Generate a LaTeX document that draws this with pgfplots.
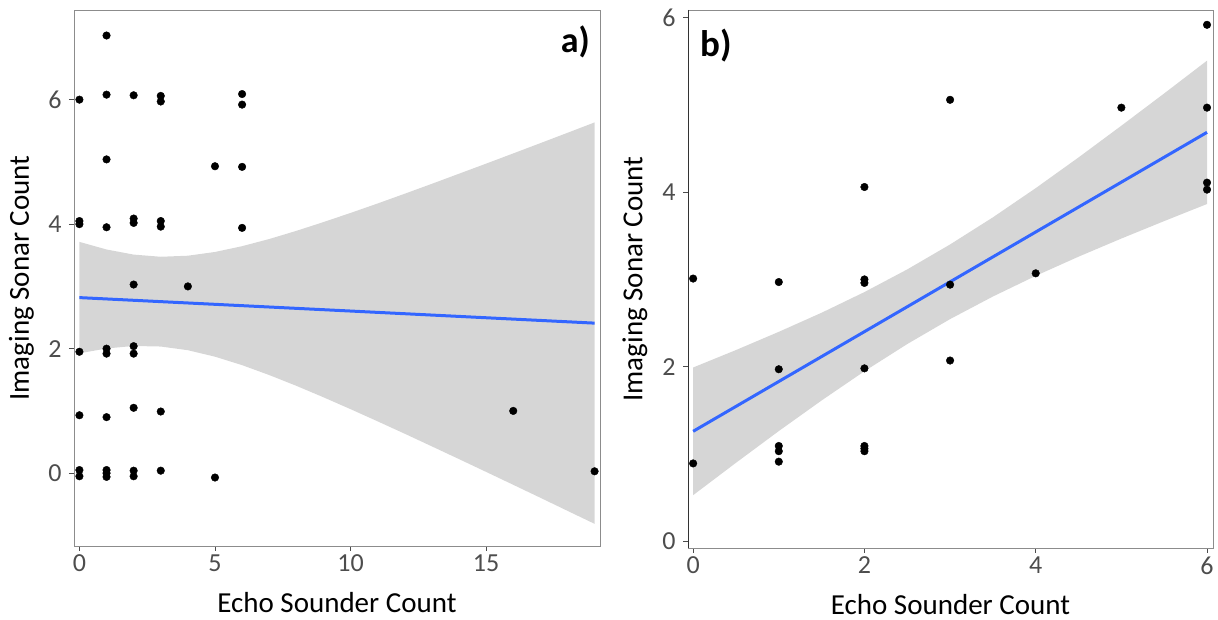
\documentclass[border=0pt]{standalone}
\usepackage{fontspec}
\setmainfont{Carlito}
\usepackage{pgfplots}
\pgfplotsset{compat=1.18}
\definecolor{fitblue}{HTML}{3366FF}
\definecolor{tickgray}{HTML}{4D4D4D}
\pgfplotsset{
  myaxis/.style={
    scale only axis,
    axis line style={draw=black!45, line width=0.9pt},
    tick align=outside,
    major tick length=5pt,
    xtick pos=bottom, ytick pos=left,
    every tick/.style={black!70, line width=0.9pt},
    /pgf/number format/assume math mode=true,
    ticklabel style={font=\fontsize{26}{26}\selectfont, text=tickgray},
    yticklabel style={xshift=-4pt},
    label style={font=\fontsize{29}{29}\selectfont},
    xlabel style={at={(rel axis cs:0.5,0)}, anchor=base, yshift=-67pt},
  },
  pts/.style={only marks, mark=*, mark size=3.8pt, black, mark options={draw=none, fill=black}},
  band/.style={draw=none, fill=black!40, fill opacity=0.4},
  fitline/.style={draw=fitblue, line width=3pt, no marks},
}
\begin{document}
\begin{tikzpicture}
\useasboundingbox (0pt,0pt) rectangle (1218pt,620pt);
% ---------------- panel a ----------------
\begin{axis}[myaxis,
  at={(74pt,74pt)}, anchor=south west,
  width=526pt, height=536pt,
  xmin=-0.2, xmax=19.2, ymin=-1.17, ymax=7.44,
  xtick={0,5,10,15}, ytick={0,2,4,6},
  xlabel={Echo Sounder Count}, ylabel={Imaging Sonar Count},
  ylabel style={at={(axis description cs:-0.1,0.5)}, rotate=0, anchor=center},
]
\addplot[pts] coordinates {
 (0,6.0) (0,4.05) (0,4.0) (0,1.95) (0,0.93) (0,0.05) (0,-0.05)
 (1,7.03) (1,6.08) (1,5.04) (1,3.95) (1,2.0) (1,1.92) (1,0.9) (1,0.05) (1,0) (1,-0.06)
 (2,6.07) (2,4.09) (2,4.02) (2,3.03) (2,2.04) (2,1.92) (2,1.05) (2,0.04) (2,-0.05)
 (3,6.06) (3,5.97) (3,4.05) (3,3.96) (3,0.99) (3,0.04)
 (4,3.0)
 (5,4.93) (5,-0.07)
 (6,6.09) (6,5.92) (6,4.92) (6,3.94)
 (16,1.0)
 (19,0.03)
};
\addplot[band] coordinates {
 (0,3.715) (1,3.593) (2,3.511) (3,3.476) (4,3.493) (5,3.553) (6,3.646) (7,3.761)
 (8,3.892) (9,4.033) (10,4.180) (11,4.332) (12,4.489) (13,4.648) (14,4.810)
 (15,4.972) (16,5.136) (17,5.301) (18,5.467) (19,5.634)
 (19,-0.814) (18,-0.605) (17,-0.395) (16,-0.187) (15,0.020) (14,0.226) (13,0.430)
 (12,0.633) (11,0.832) (10,1.028) (9,1.219) (8,1.403) (7,1.576) (6,1.735)
 (5,1.871) (4,1.975) (3,2.034) (2,2.043) (1,2.003) (0,1.925)
} -- cycle;
\addplot[fitline] coordinates {(0,2.82) (19,2.41)};
\node[anchor=north east, inner sep=0pt, font=\bfseries\fontsize{36}{36}\selectfont]
  at (rel axis cs:1,1) [xshift=-10pt, yshift=-16pt] {a)};
\end{axis}
% ---------------- panel b ----------------
\begin{axis}[myaxis,
  at={(688pt,72pt)}, anchor=south west,
  width=525pt, height=538pt,
  xmin=-0.06, xmax=6.07, ymin=-0.08, ymax=6.09,
  xtick={0,2,4,6}, ytick={0,2,4,6},
  xlabel={Echo Sounder Count}, ylabel={Imaging Sonar Count},
  ylabel style={at={(axis description cs:-0.101,0.5)}, rotate=0, anchor=center},
]
\addplot[pts] coordinates {
 (0,3.01) (0,0.89)
 (1,2.97) (1,1.97) (1,1.09) (1,1.03) (1,0.91)
 (2,4.06) (2,3.0) (2,2.96) (2,1.98) (2,1.09) (2,1.06) (2,1.03)
 (3,5.06) (3,2.94) (3,2.07)
 (4,3.07)
 (5,4.97)
 (6,5.92) (6,4.97) (6,4.11) (6,4.03)
};
\addplot[band] coordinates {
 (0,1.990) (0.5,2.190) (1,2.399) (1.5,2.618) (2,2.855) (2.5,3.115) (3,3.401)
 (3.5,3.712) (4,4.047) (4.5,4.399) (5,4.763) (5.5,5.133) (6,5.509)
 (6,3.865) (5.5,3.669) (5,3.469) (4.5,3.261) (4,3.041) (3.5,2.804) (3,2.545)
 (2.5,2.259) (2,1.947) (1.5,1.612) (1,1.261) (0.5,0.897) (0,0.526)
} -- cycle;
\addplot[fitline] coordinates {(0,1.258) (6,4.687)};
\draw[black!80, line width=0.9pt] (rel axis cs:0,1) -- (rel axis cs:0,0) -- (rel axis cs:1,0);
\node[anchor=north west, inner sep=0pt, font=\bfseries\fontsize{37}{37}\selectfont]
  at (rel axis cs:0,1) [xshift=12pt, yshift=-19pt] {b)};
\end{axis}
\end{tikzpicture}
\end{document}
